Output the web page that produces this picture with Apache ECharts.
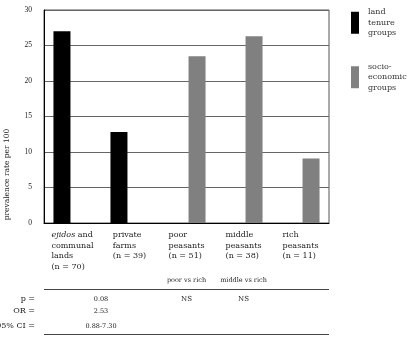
<!DOCTYPE html>
<html>
<head>
<meta charset="utf-8">
<script src="https://cdn.jsdelivr.net/npm/echarts@6/dist/echarts.min.js"></script>
<style>
  html, body { margin: 0; padding: 0; background: #fff; }
  #chart { width: 408px; height: 362px; }
</style>
</head>
<body>
<div id="chart"></div>
<script>
"use strict";

// categories (multi-line labels)
const categories = [
    "ejidos and\ncommunal\nlands\n(n = 70)",
    "private\nfarms\n(n = 39)",
    "poor\npeasants\n(n = 51)",
    "middle\npeasants\n(n = 38)",
    "rich\npeasants\n(n = 11)"
];

// prevalence rate per 100
const landTenure = [27.0, 12.8, "-", "-", "-"];
const socioEconomic = ["-", "-", 23.5, 26.3, 9.1];

const yTicks = { min: 0, max: 30, interval: 5 };

// table under the chart
const rowLabels = ["p =", "OR =", "95% CI ="];
const comparisons = ["", "", "poor vs rich", "middle vs rich", ""];
const landTenureStats = ["0.08", "2.53", "0.88-7.30"];   // ejidos vs private
const poorVsRich = ["NS", "", ""];
const middleVsRich = ["NS", "", ""];

const serif = "DejaVu Serif";

function catLabel(value) {
    return value.split("\n").map(function (line) {
        if (line.indexOf("ejidos") === 0) {
            return "{i|ejidos}{a|" + line.slice(6) + "}";
        }
        return "{a|" + line + "}";
    }).join("\n");
}

let chart = echarts.init(document.getElementById("chart"));

chart.setOption({
    animation: false,
    backgroundColor: "#fff",
    grid: {
        left: 44, right: 79, top: 10, bottom: 139,
        outerBoundsMode: "none", containLabel: false,
        show: true, borderColor: "#555", borderWidth: 1
    },
    legend: {
        orient: "vertical",
        left: 346,
        top: 2,
        itemWidth: 8,
        itemHeight: 22,
        itemGap: 23,
        icon: "rect",
        selectedMode: false,
        textStyle: { fontFamily: serif, fontSize: 8, color: "#333", lineHeight: 10.5, padding: [0, 0, 0, 4] },
        data: ["land\ntenure\ngroups", "socio-\neconomic\ngroups"]
    },
    xAxis: {
        type: "category",
        data: categories,
        axisLine: { lineStyle: { color: "#000", width: 1 } },
        axisTick: { inside: true, length: 5, interval: 0, lineStyle: { color: "#000" } },
        axisLabel: {
            interval: 0,
            margin: 7,
            formatter: catLabel,
            rich: {
                a: { fontFamily: serif, fontSize: 8, color: "#222", align: "left", lineHeight: 10.5 },
                i: { fontFamily: serif, fontSize: 8, color: "#222", align: "left", lineHeight: 10.5, fontStyle: "italic" }
            }
        }
    },
    yAxis: {
        type: "value",
        min: yTicks.min,
        max: yTicks.max,
        interval: yTicks.interval,
        name: "prevalence rate per 100",
        nameLocation: "middle",
        nameGap: 33,
        nameTextStyle: { fontFamily: serif, fontSize: 7.5, color: "#222", padding: [0, 116, 0, 0] },
        axisLine: { show: true, lineStyle: { color: "#000", width: 1 } },
        axisTick: { show: false },
        axisLabel: { fontFamily: "Liberation Serif", fontSize: 7.5, color: "#222", margin: 12 },
        splitLine: { lineStyle: { color: "#666", width: 1 } }
    },
    series: [
        {
            name: "land\ntenure\ngroups",
            type: "bar",
            data: landTenure,
            barWidth: 17,
            barGap: "24%",
            itemStyle: { color: "#000" }
        },
        {
            name: "socio-\neconomic\ngroups",
            type: "bar",
            data: socioEconomic,
            barWidth: 17,
            barGap: "24%",
            itemStyle: { color: "#808080" }
        }
    ]
});

// table text placed from the category axis
function catX(i) {
    return chart.convertToPixel({ xAxisIndex: 0 }, categories[i]);
}

const left = 44, right = 329;
const rowY = [299, 311, 326];
let elements = [];

function text(x, y, str, size, align) {
    elements.push({
        type: "text",
        x: x, y: y,
        style: { text: str, fontFamily: serif, fontSize: size, fill: "#222", align: align || "center", verticalAlign: "middle" }
    });
}

comparisons.forEach(function (c, i) {
    if (c) text(catX(i), 280, c, 6.5);
});

elements.push({ type: "line", shape: { x1: left, y1: 289.5, x2: right, y2: 289.5 }, style: { stroke: "#444", lineWidth: 1 } });
elements.push({ type: "line", shape: { x1: left, y1: 334.5, x2: right, y2: 334.5 }, style: { stroke: "#444", lineWidth: 1 } });

rowLabels.forEach(function (l, r) { text(35, rowY[r], l, 8, "right"); });

const ltX = (catX(0) + catX(1)) / 2;
landTenureStats.forEach(function (v, r) { if (v) text(ltX, rowY[r], v, 6.5); });
poorVsRich.forEach(function (v, r) { if (v) text(catX(2), rowY[r], v, 7); });
middleVsRich.forEach(function (v, r) { if (v) text(catX(3), rowY[r], v, 7); });

chart.setOption({ graphic: { elements: elements } });
</script>
</body>
</html>
